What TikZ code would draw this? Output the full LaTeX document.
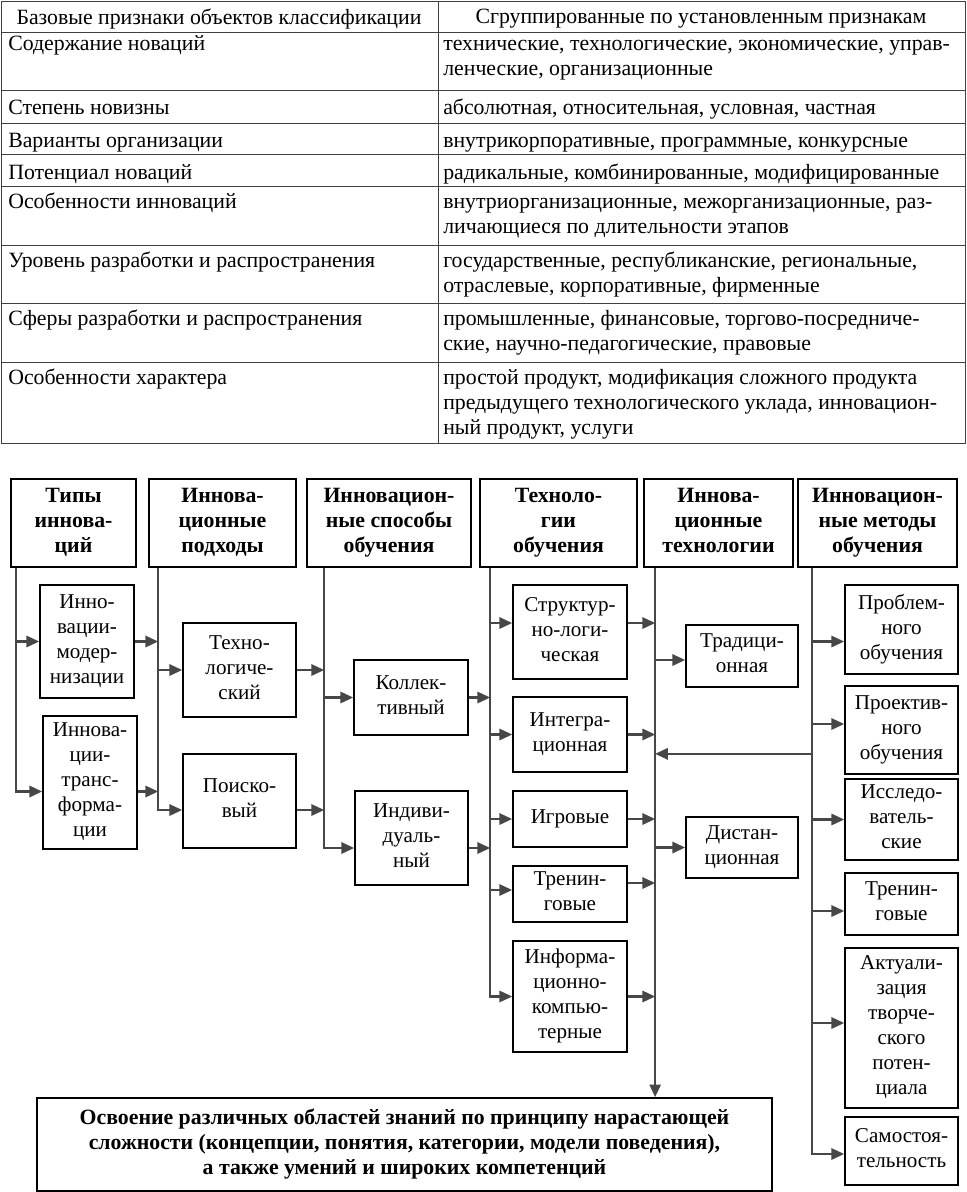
\documentclass[tikz,border=0pt]{standalone}
\usepackage{fontspec}
\setmainfont{Liberation Serif}
\usepackage{tikz}
\usetikzlibrary{arrows.meta, calc, positioning}
\tikzset{
  itembox/.style={
    draw, line width=1.2pt, align=center, inner sep=1pt, text depth=4pt,
    font=\fontsize{15}{17.8}\selectfont
  },
  headbox/.style={
    itembox, font=\fontsize{15.5}{17.8}\selectfont\bfseries
  },
  flowarrow/.style={
    -{Triangle[length=9pt, width=8pt]}, line width=1.5pt, color=black!72
  },
  tableline/.style={
    line width=0.7pt, color=black!75
  },
  celltext/.style={
    anchor=north west, inner sep=0pt, align=left,
    font=\fontsize{15.5}{17.8}\selectfont
  },
  headtext/.style={
    inner sep=0pt, font=\fontsize{15.5}{17.8}\selectfont
  },
}

\begin{document}
\begin{tikzpicture}[x=0.025cm, y=-0.025cm]
  \useasboundingbox (0,0) rectangle (967,1192);

  % === Table ===
  \draw[tableline] (1,1) rectangle (965,443);
  \draw[tableline] (438,1) -- (438,443);
  \foreach \rowy in {32,90,123,154,186,245,303,362}
    \draw[tableline] (1,\rowy) -- (965,\rowy);

  \node[headtext] (hleft) at (219,19) {Базовые признаки объектов классификации};
  \node[headtext] (hright) at (701,19) {Сгруппированные по установленным признакам};

  \node[celltext] (r1a) at (8,33) {\strut Содержание новаций};
  \node[celltext] (r1b) at (443,33) {\strut технические, технологические, экономические, управ-\\ленческие, организационные};
  \node[celltext] (r2a) at (8,97) {\strut Степень новизны};
  \node[celltext] (r2b) at (443,97) {\strut абсолютная, относительная, условная, частная};
  \node[celltext] (r3a) at (8,130) {\strut Варианты организации};
  \node[celltext] (r3b) at (443,130) {\strut внутрикорпоративные, программные, конкурсные};
  \node[celltext] (r4a) at (8,162) {\strut Потенциал новаций};
  \node[celltext] (r4b) at (443,162) {\strut радикальные, комбинированные, модифицированные};
  \node[celltext] (r5a) at (8,191) {\strut Особенности инноваций};
  \node[celltext] (r5b) at (443,191) {\strut внутриорганизационные, межорганизационные, раз-\\личающиеся по длительности этапов};
  \node[celltext] (r6a) at (8,250) {\strut Уровень разработки и распространения};
  \node[celltext] (r6b) at (443,250) {\strut государственные, республиканские, региональные,\\отраслевые, корпоративные, фирменные};
  \node[celltext] (r7a) at (8,308) {\strut Сферы разработки и распространения};
  \node[celltext] (r7b) at (443,308) {\strut промышленные, финансовые, торгово-посредниче-\\ские, научно-педагогические, правовые};
  \node[celltext] (r8a) at (8,367) {\strut Особенности характера};
  \node[celltext] (r8b) at (443,367) {\strut простой продукт, модификация сложного продукта\\предыдущего технологического уклада, инновацион-\\ный продукт, услуги};

  % === Column heads ===
  \node[headbox, minimum width=3.125cm, minimum height=2.2cm] (typ) at (73.5,523) {Типы\\иннова-\\ций};
  \node[headbox, minimum width=3.675cm, minimum height=2.2cm] (podh) at (222.5,523) {Иннова-\\ционные\\подходы};
  \node[headbox, minimum width=4.1cm, minimum height=2.2cm] (spos) at (389,523) {Инновацион-\\ные способы\\обучения};
  \node[headbox, minimum width=3.925cm, minimum height=2.2cm] (tech) at (558.5,523) {Техноло-\\гии\\обучения};
  \node[headbox, minimum width=3.725cm, minimum height=2.2cm] (inntech) at (718.5,523) {Иннова-\\ционные\\технологии};
  \node[headbox, minimum width=3.975cm, minimum height=2.2cm] (meth) at (877.5,523) {Инновацион-\\ные методы\\обучения};

  % === Items ===
  \node[itembox, minimum width=2.35cm, minimum height=2.825cm] (modern) at (87,641.5) {Инно-\\вации-\\модер-\\низации};
  \node[itembox, minimum width=2.35cm, minimum height=3.325cm] (transf) at (90,782.5) {Иннова-\\ции-\\транс-\\форма-\\ции};
  \node[itembox, minimum width=2.825cm, minimum height=2.35cm] (tehnol) at (239.5,670) {Техно-\\логиче-\\ский};
  \node[itembox, minimum width=2.825cm, minimum height=2.35cm] (poisk) at (239.5,801) {Поиско-\\вый};
  \node[itembox, minimum width=2.85cm, minimum height=1.875cm] (koll) at (411,697.5) {Коллек-\\тивный};
  \node[itembox, minimum width=2.825cm, minimum height=2.35cm] (indiv) at (411.5,838) {Индиви-\\дуаль-\\ный};
  \node[itembox, minimum width=2.85cm, minimum height=2.35cm] (struct) at (570,632) {Структур-\\но-логи-\\ческая};
  \node[itembox, minimum width=2.85cm, minimum height=1.875cm] (integr) at (570,734.5) {Интегра-\\ционная};
  \node[itembox, minimum width=2.85cm, minimum height=1.4cm] (igr) at (570,819) {Игровые};
  \node[itembox, minimum width=2.85cm, minimum height=1.4cm] (trening) at (570,894) {Тренин-\\говые};
  \node[itembox, minimum width=2.85cm, minimum height=2.775cm] (inform) at (570,996.5) {Информа-\\ционно-\\компью-\\терные};
  \node[itembox, minimum width=2.8cm, minimum height=1.55cm] (trad) at (742,656) {Традици-\\онная};
  \node[itembox, minimum width=2.8cm, minimum height=1.525cm] (dist) at (742,847.5) {Дистан-\\ционная};
  \node[itembox, minimum width=2.825cm, minimum height=2.225cm] (probl) at (901.5,629.5) {Проблем-\\ного\\обучения};
  \node[itembox, minimum width=2.825cm, minimum height=2.2cm] (proekt) at (901.5,730) {Проектив-\\ного\\обучения};
  \node[itembox, minimum width=2.825cm, minimum height=2.025cm] (issl) at (901.5,819.5) {Исследо-\\ватель-\\ские};
  \node[itembox, minimum width=2.825cm, minimum height=1.55cm] (tren2) at (901.5,904) {Тренин-\\говые};
  \node[itembox, minimum width=2.825cm, minimum height=4.0cm] (aktual) at (901.5,1028) {Актуали-\\зация\\творче-\\ского\\потен-\\циала};
  \node[itembox, minimum width=2.825cm, minimum height=1.7cm] (samost) at (901.5,1151) {Самостоя-\\тельность};

  % === Result ===
  \node[headbox, minimum width=18.375cm, minimum height=2.325cm] (goal) at (404.5,1144.5)
    {Освоение различных областей знаний по принципу нарастающей\\сложности (концепции, понятия, категории, модели поведения),\\а также умений и широких компетенций};

  % === Buses under the heads ===
  \coordinate (typbus) at ($(typ.south west)+(6,0)$);
  \coordinate (podhbus) at ($(podh.south west)+(10,0)$);
  \coordinate (sposbus) at ($(spos.south west)+(18,0)$);
  \coordinate (techbus) at ($(tech.south west)+(11,0)$);
  \coordinate (inntechbus) at ($(inntech.south west)+(12,0)$);
  \coordinate (methbus) at ($(meth.south west)+(15,0)$);

  % === Types ===
  \draw[flowarrow] (typbus) |- (modern.west);
  \draw[flowarrow] (typbus) |- ($(transf.west)+(0,9)$);
  \draw[flowarrow] (modern.east) -- (modern.east -| podhbus);
  \draw[flowarrow] ($(transf.east)+(0,9)$) -- ($(transf.east -| podhbus)+(0,9)$);

  % === Approaches ===
  \draw[flowarrow] (podhbus) |- (tehnol.west);
  \draw[flowarrow] (podhbus) |- ($(poisk.west)+(0,9)$);
  \draw[flowarrow] (tehnol.east) -- (tehnol.east -| sposbus);
  \draw[flowarrow] ($(poisk.east)+(0,9)$) -- ($(poisk.east -| sposbus)+(0,9)$);

  % === Ways of learning ===
  \draw[flowarrow] (sposbus) |- (koll.west);
  \draw[flowarrow] (sposbus) |- ($(indiv.west)+(0,10)$);
  \draw[flowarrow] (koll.east) -- (koll.east -| techbus);
  \draw[flowarrow] ($(indiv.east)+(0,10)$) -- ($(indiv.east -| techbus)+(0,10)$);

  % === Learning technologies ===
  \draw[flowarrow] (techbus) |- ($(struct.west)+(0,-9)$);
  \draw[flowarrow] (techbus) |- (integr.west);
  \draw[flowarrow] (techbus) |- (igr.west);
  \draw[flowarrow] (techbus) |- ($(trening.west)+(0,-4)$);
  \draw[flowarrow] (techbus) |- (inform.west);
  \draw[flowarrow] ($(struct.east)+(0,-9)$) -- ($(struct.east -| inntechbus)+(0,-9)$);
  \draw[flowarrow] (integr.east) -- (integr.east -| inntechbus);
  \draw[flowarrow] (igr.east) -- (igr.east -| inntechbus);
  \draw[flowarrow] ($(trening.east)+(0,-11)$) -- ($(trening.east -| inntechbus)+(0,-11)$);
  \draw[flowarrow] (inform.east) -- (inform.east -| inntechbus);

  % === Innovative technologies ===
  \draw[flowarrow] (inntechbus) |- ($(trad.west)+(0,4)$);
  \draw[flowarrow] (inntechbus) |- (dist.west);
  \draw[flowarrow] (inntechbus) -- (inntechbus |- goal.north);

  % === Methods ===
  \draw[flowarrow] (methbus) |- ($(probl.west)+(0,12)$);
  \draw[flowarrow] (methbus) |- ($(proekt.west)+(0,-6)$);
  \draw[flowarrow] (methbus) |- (issl.west);
  \draw[flowarrow] (methbus) |- ($(tren2.west)+(0,7)$);
  \draw[flowarrow] (methbus) |- ($(aktual.west)+(0,-5)$);
  \draw[flowarrow] (methbus) |- ($(samost.west)+(0,3)$);
  \coordinate (back) at ($(methbus)+(0,186)$);
  \draw[flowarrow] (back) -- (back -| inntechbus);

\end{tikzpicture}
\end{document}
